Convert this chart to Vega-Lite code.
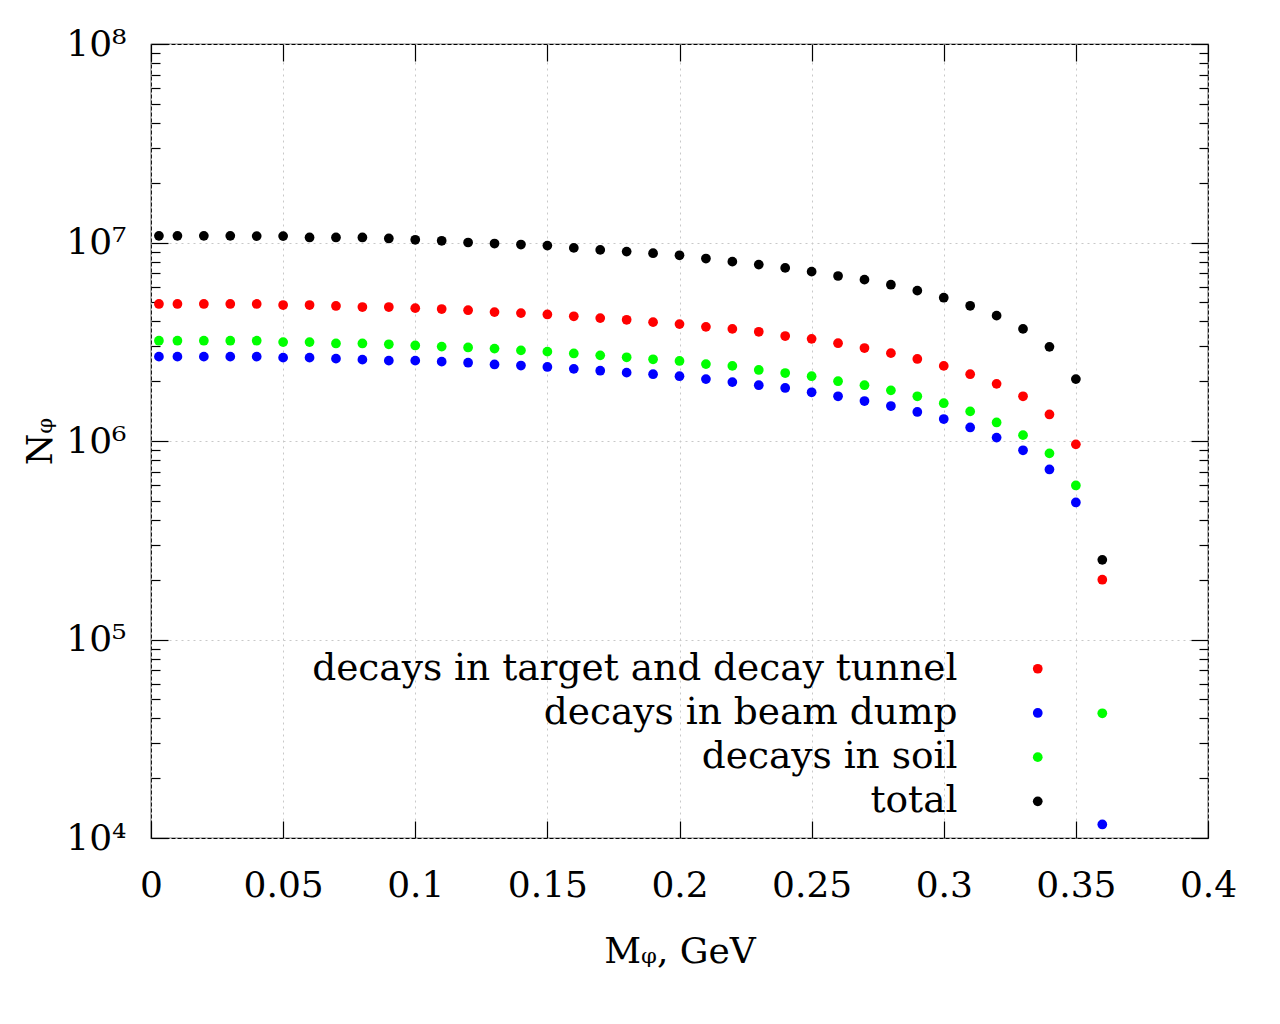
{
  "$schema": "https://vega.github.io/schema/vega-lite/v6.json",
  "width": 1057,
  "height": 794,
  "autosize": "none",
  "padding": {"left": 151, "top": 44, "right": 72, "bottom": 186},
  "background": "white",
  "config": {
    "view": {"stroke": "black", "strokeWidth": 1.2},
    "font": "DejaVu Serif",
    "axis": {
      "labelFont": "DejaVu Serif",
      "titleFont": "DejaVu Serif",
      "labelColor": "black",
      "titleColor": "black",
      "titleFontWeight": "normal",
      "labelFontSize": 36,
      "titleFontSize": 36,
      "tickColor": "black",
      "tickWidth": 1.2,
      "domain": false
    }
  },
  "data": {
    "values": [
      {"m": 0.003, "tunnel": 4.9e6, "dump": 2.66e6, "soil": 3.2e6, "total": 1.08e7},
      {"m": 0.01, "tunnel": 4.9e6, "dump": 2.66e6, "soil": 3.2e6, "total": 1.08e7},
      {"m": 0.02, "tunnel": 4.9e6, "dump": 2.66e6, "soil": 3.2e6, "total": 1.08e7},
      {"m": 0.03, "tunnel": 4.9e6, "dump": 2.66e6, "soil": 3.2e6, "total": 1.08e7},
      {"m": 0.04, "tunnel": 4.9e6, "dump": 2.66e6, "soil": 3.2e6, "total": 1.077e7},
      {"m": 0.05, "tunnel": 4.84e6, "dump": 2.63e6, "soil": 3.15e6, "total": 1.077e7},
      {"m": 0.06, "tunnel": 4.84e6, "dump": 2.63e6, "soil": 3.15e6, "total": 1.06e7},
      {"m": 0.07, "tunnel": 4.79e6, "dump": 2.6e6, "soil": 3.1e6, "total": 1.06e7},
      {"m": 0.08, "tunnel": 4.73e6, "dump": 2.57e6, "soil": 3.1e6, "total": 1.06e7},
      {"m": 0.09, "tunnel": 4.73e6, "dump": 2.54e6, "soil": 3.07e6, "total": 1.048e7},
      {"m": 0.1, "tunnel": 4.67e6, "dump": 2.54e6, "soil": 3.03e6, "total": 1.032e7},
      {"m": 0.11, "tunnel": 4.62e6, "dump": 2.51e6, "soil": 2.99e6, "total": 1.02e7},
      {"m": 0.12, "tunnel": 4.56e6, "dump": 2.48e6, "soil": 2.96e6, "total": 1.0e7},
      {"m": 0.13, "tunnel": 4.46e6, "dump": 2.43e6, "soil": 2.92e6, "total": 9.88e6},
      {"m": 0.14, "tunnel": 4.41e6, "dump": 2.4e6, "soil": 2.86e6, "total": 9.77e6},
      {"m": 0.15, "tunnel": 4.34e6, "dump": 2.36e6, "soil": 2.82e6, "total": 9.65e6},
      {"m": 0.16, "tunnel": 4.25e6, "dump": 2.31e6, "soil": 2.76e6, "total": 9.39e6},
      {"m": 0.17, "tunnel": 4.16e6, "dump": 2.26e6, "soil": 2.7e6, "total": 9.18e6},
      {"m": 0.18, "tunnel": 4.08e6, "dump": 2.21e6, "soil": 2.64e6, "total": 9.0e6},
      {"m": 0.19, "tunnel": 3.97e6, "dump": 2.17e6, "soil": 2.58e6, "total": 8.83e6},
      {"m": 0.2, "tunnel": 3.88e6, "dump": 2.12e6, "soil": 2.53e6, "total": 8.62e6},
      {"m": 0.21, "tunnel": 3.76e6, "dump": 2.05e6, "soil": 2.44e6, "total": 8.3e6},
      {"m": 0.22, "tunnel": 3.67e6, "dump": 1.98e6, "soil": 2.39e6, "total": 8.01e6},
      {"m": 0.23, "tunnel": 3.55e6, "dump": 1.91e6, "soil": 2.28e6, "total": 7.74e6},
      {"m": 0.24, "tunnel": 3.38e6, "dump": 1.85e6, "soil": 2.2e6, "total": 7.45e6},
      {"m": 0.25, "tunnel": 3.27e6, "dump": 1.76e6, "soil": 2.12e6, "total": 7.13e6},
      {"m": 0.26, "tunnel": 3.11e6, "dump": 1.68e6, "soil": 2.0e6, "total": 6.78e6},
      {"m": 0.27, "tunnel": 2.94e6, "dump": 1.59e6, "soil": 1.91e6, "total": 6.5e6},
      {"m": 0.28, "tunnel": 2.77e6, "dump": 1.5e6, "soil": 1.8e6, "total": 6.13e6},
      {"m": 0.29, "tunnel": 2.59e6, "dump": 1.4e6, "soil": 1.68e6, "total": 5.72e6},
      {"m": 0.3, "tunnel": 2.39e6, "dump": 1.29e6, "soil": 1.55e6, "total": 5.27e6},
      {"m": 0.31, "tunnel": 2.17e6, "dump": 1.17e6, "soil": 1.41e6, "total": 4.8e6},
      {"m": 0.32, "tunnel": 1.94e6, "dump": 1.04e6, "soil": 1.24e6, "total": 4.28e6},
      {"m": 0.33, "tunnel": 1.68e6, "dump": 8.98e5, "soil": 1.07e6, "total": 3.67e6},
      {"m": 0.34, "tunnel": 1.36e6, "dump": 7.19e5, "soil": 8.66e5, "total": 2.98e6},
      {"m": 0.35, "tunnel": 9.62e5, "dump": 4.9e5, "soil": 5.97e5, "total": 2.05e6},
      {"m": 0.36, "tunnel": 2.0e5, "dump": 1.17e4, "soil": 4.25e4, "total": 2.52e5}
    ]
  },
  "transform": [
    {"fold": ["tunnel", "dump", "soil", "total"], "as": ["series", "n"]}
  ],
  "resolve": {"axis": {"x": "independent", "y": "independent"}},
  "layer": [
    {
      "mark": {"type": "point", "filled": true, "size": 95, "opacity": 1},
      "encoding": {
        "x": {
          "field": "m",
          "type": "quantitative",
          "scale": {"domain": [0, 0.4], "nice": false, "zero": false},
          "axis": {
            "orient": "bottom",
            "values": [0, 0.05, 0.1, 0.15, 0.2, 0.25, 0.3, 0.35, 0.4],
            "format": "~g",
            "tickSize": -17,
            "labelPadding": 47,
            "labelFlush": false,
            "labelDx": 5,
            "grid": true,
            "gridColor": "#c8c8c8",
            "gridDash": [2, 4],
            "gridWidth": 1,
            "title": "Mᵩ, GeV",
            "titlePadding": 31
          }
        },
        "y": {
          "field": "n",
          "type": "quantitative",
          "scale": {"type": "log", "domain": [10000, 100000000], "nice": false},
          "axis": {
            "orient": "left",
            "values": [10000, 100000, 1000000, 10000000, 100000000],
            "labelExpr": "datum.value > 5e7 ? '10⁸' : datum.value > 5e6 ? '10⁷' : datum.value > 5e5 ? '10⁶' : datum.value > 5e4 ? '10⁵' : '10⁴'",
            "tickSize": -17,
            "labelPadding": 42,
            "grid": true,
            "gridColor": "#c8c8c8",
            "gridDash": [2, 4],
            "gridWidth": 1,
            "title": "Nᵩ",
            "titlePadding": 6
          }
        },
        "color": {
          "field": "series",
          "type": "nominal",
          "scale": {
            "domain": ["tunnel", "dump", "soil", "total"],
            "range": ["#ff0000", "#0000ff", "#00ff00", "#000000"]
          },
          "legend": {
            "orient": "none",
            "legendX": 868,
            "legendY": 606,
            "title": null,
            "padding": 0,
            "labelExpr": "datum.value == 'tunnel' ? 'decays in target and decay tunnel' : datum.value == 'dump' ? 'decays in beam dump' : datum.value == 'soil' ? 'decays in soil' : 'total'",
            "labelAlign": "right",
            "labelOffset": -99,
            "labelFont": "DejaVu Serif",
            "labelFontSize": 37.5,
            "labelColor": "black",
            "labelLimit": 1000,
            "symbolType": "circle",
            "symbolSize": 95,
            "symbolStrokeWidth": 0,
            "rowPadding": 5.2
          }
        }
      }
    },
    {
      "mark": {"type": "point", "opacity": 0},
      "encoding": {
        "x": {
          "field": "m",
          "type": "quantitative",
          "scale": {"domain": [0, 0.4], "nice": false, "zero": false},
          "axis": {
            "orient": "top",
            "values": [0, 0.05, 0.1, 0.15, 0.2, 0.25, 0.3, 0.35, 0.4],
            "tickSize": -17,
            "labels": false,
            "grid": false,
            "title": null
          }
        },
        "y": {
          "field": "n",
          "type": "quantitative",
          "scale": {"type": "log", "domain": [10000, 100000000], "nice": false},
          "axis": {
            "orient": "left",
            "values": [20000, 30000, 40000, 50000, 60000, 70000, 80000, 90000, 200000, 300000, 400000, 500000, 600000, 700000, 800000, 900000, 2000000, 3000000, 4000000, 5000000, 6000000, 7000000, 8000000, 9000000, 20000000, 30000000, 40000000, 50000000, 60000000, 70000000, 80000000, 90000000],
            "tickSize": -9,
            "labels": false,
            "grid": false,
            "title": null
          }
        }
      }
    },
    {
      "mark": {"type": "point", "opacity": 0},
      "encoding": {
        "x": {
          "field": "m",
          "type": "quantitative",
          "scale": {"domain": [0, 0.4], "nice": false, "zero": false},
          "axis": null
        },
        "y": {
          "field": "n",
          "type": "quantitative",
          "scale": {"type": "log", "domain": [10000, 100000000], "nice": false},
          "axis": {
            "orient": "right",
            "values": [10000, 100000, 1000000, 10000000, 100000000],
            "tickSize": -17,
            "labels": false,
            "grid": false,
            "title": null
          }
        }
      }
    },
    {
      "mark": {"type": "point", "opacity": 0},
      "encoding": {
        "x": {
          "field": "m",
          "type": "quantitative",
          "scale": {"domain": [0, 0.4], "nice": false, "zero": false},
          "axis": null
        },
        "y": {
          "field": "n",
          "type": "quantitative",
          "scale": {"type": "log", "domain": [10000, 100000000], "nice": false},
          "axis": {
            "orient": "right",
            "values": [20000, 30000, 40000, 50000, 60000, 70000, 80000, 90000, 200000, 300000, 400000, 500000, 600000, 700000, 800000, 900000, 2000000, 3000000, 4000000, 5000000, 6000000, 7000000, 8000000, 9000000, 20000000, 30000000, 40000000, 50000000, 60000000, 70000000, 80000000, 90000000],
            "tickSize": -9,
            "labels": false,
            "grid": false,
            "title": null
          }
        }
      }
    }
  ]
}
